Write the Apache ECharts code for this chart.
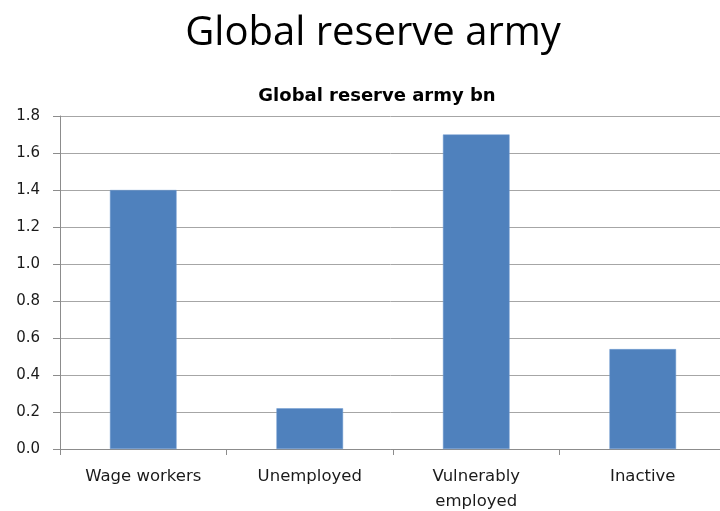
<!DOCTYPE html>
<html><head><meta charset="utf-8">
<script src="https://cdn.jsdelivr.net/npm/echarts@6/dist/echarts.min.js"></script>
<style>html,body{margin:0;padding:0;background:#fff}#c{width:720px;height:511px}</style>
</head><body><div id="c"></div>
<script>
const categories = ['Wage workers', 'Unemployed', 'Vulnerably\nemployed', 'Inactive'];
const values = [1.4, 0.22, 1.7, 0.54];
const yTicks = [0, 0.2, 0.4, 0.6, 0.8, 1.0, 1.2, 1.4, 1.6, 1.8];
const mainTitle = 'Global reserve army';
const subTitle = 'Global reserve army bn';

const chart = echarts.init(document.getElementById('c'), null, {renderer: 'canvas'});
chart.setOption({
  animation: false,
  backgroundColor: '#fff',
  title: [
    {text: mainTitle, left: 368, top: 9, textAlign: 'center',
     textStyle: {fontFamily: 'Open Sans', fontWeight: 'normal', fontSize: 40, color: '#000'}},
    {text: subTitle, left: 372, top: 82, textAlign: 'center',
     textStyle: {fontFamily: 'DejaVu Sans', fontWeight: 'bold', fontSize: 18, color: '#000'}}
  ],
  grid: {left: 60, width: 666, top: 116, bottom: 62, containLabel: false, outerBoundsMode: 'none'},
  xAxis: {
    type: 'category', data: categories,
    axisLine: {show: true, lineStyle: {color: '#8c8c8c', width: 1}},
    axisTick: {show: true, length: 6, lineStyle: {color: '#8c8c8c'}},
    axisLabel: {fontFamily: 'DejaVu Sans', fontSize: 16.5, color: '#1a1a1a', margin: 15, lineHeight: 25, interval: 0}
  },
  yAxis: {
    type: 'value', min: 0, max: 1.8, interval: 0.2,
    axisLine: {show: true, lineStyle: {color: '#8c8c8c', width: 1}},
    axisTick: {show: true, length: 7, lineStyle: {color: '#8c8c8c'}},
    splitLine: {show: true, lineStyle: {color: '#a6a6a6', width: 1}},
    axisLabel: {fontFamily: 'DejaVu Sans', fontSize: 15, color: '#1a1a1a', margin: 20,
      formatter: v => v.toFixed(1)}
  },
  series: [{
    type: 'bar', data: values, barWidth: '40%',
    itemStyle: {color: '#4F81BD', borderColor: '#6f9bd0', borderWidth: 0.5}
  }]
});
</script>
</body></html>
